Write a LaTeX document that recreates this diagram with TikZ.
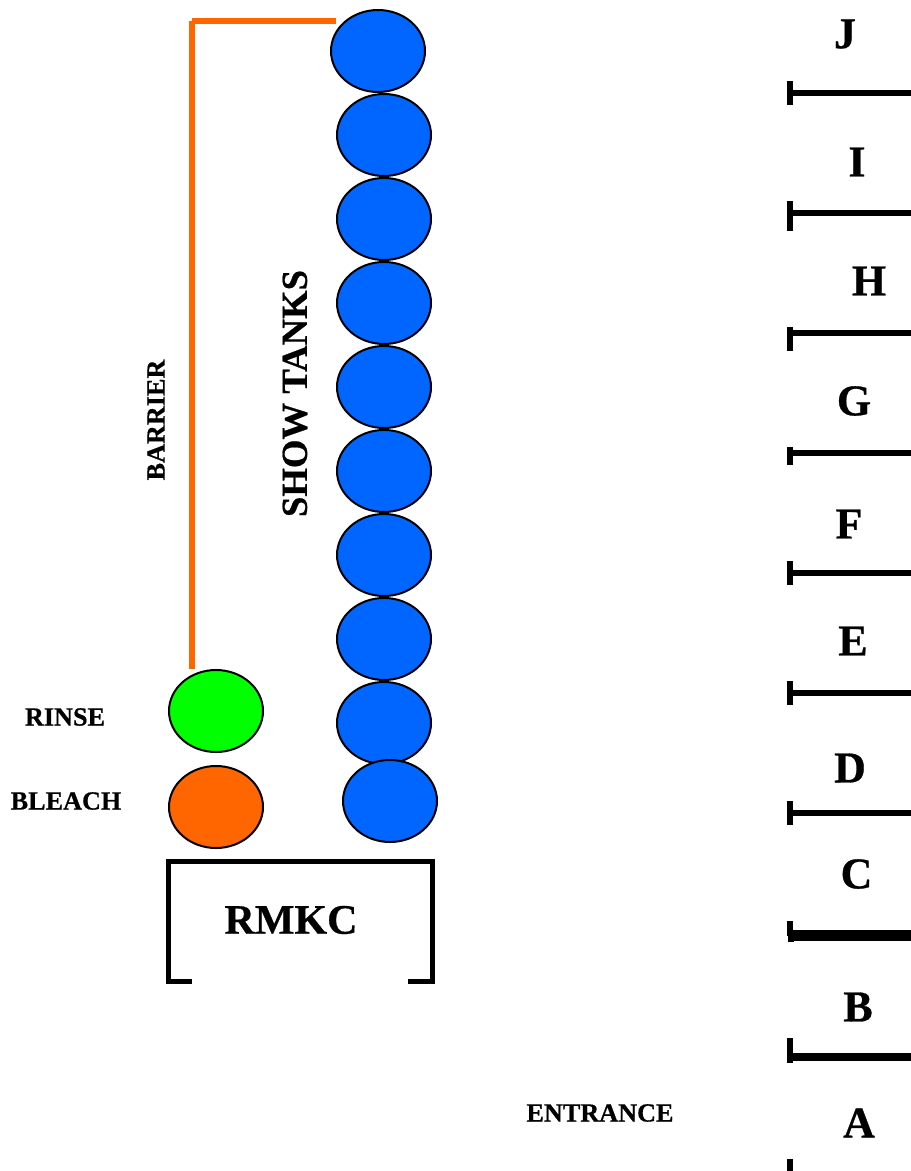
\documentclass[tikz,border=0pt]{standalone}
\usepackage{fontspec}
\setmainfont[BoldFeatures={FakeBold=0.6}]{Liberation Serif}
\usetikzlibrary{shapes.geometric}
\definecolor{tankblue}{RGB}{0,102,255}
\definecolor{barorange}{RGB}{255,102,0}
\definecolor{rinsegreen}{RGB}{0,255,0}
\tikzset{
  x=1pt,y=-1pt,
  tank/.style={ellipse,draw=black,line width=2pt,minimum width=94pt,minimum height=82pt,inner sep=0pt,fill=#1},
  lab/.style={font=\bfseries\fontsize{26.2}{26}\selectfont,inner sep=0pt,text=black},
  letter/.style={font=\bfseries\fontsize{44}{44}\selectfont,inner sep=0pt,text=black},
  wall/.style={line width=6pt},
  tick/.style={line width=5.5pt},
  bar/.style={barorange,line width=5.5pt},
  bracket/.style={line width=5pt,miter limit=10},
}
\begin{document}
\begin{tikzpicture}
\useasboundingbox (0,0) rectangle (911,1171);
% barrier
\coordinate (b1) at (192,668.5);
\coordinate (b2) at (192,21);
\coordinate (b4) at (335.5,21);
\draw[bar] (b1) -- (b2);
\draw[bar] (b2) -- (b4);
% tanks
\foreach \n/\y in {2/135,3/219,4/303,5/387,6/471,7/555,8/639,9/723}
  \node[tank=tankblue] (t\n) at (384,\y) {};
\node[tank=tankblue] (t1) at (378,51) {};
\node[tank=tankblue] (t10) at (390,801) {};
\node[tank=rinsegreen] (rinse) at (216,711) {};
\node[tank=barorange] (bleach) at (216,807) {};
% RMKC bracket
\draw[bracket] (192,981) -- (168,981) -- (168,861) -- (432,861) -- (432,981) -- (408,981);
\node[font=\bfseries\fontsize{42}{42}\selectfont,inner sep=0pt] (rmkc) at (291,920) {RMKC};
% side labels
\node[lab] (lrinse) at (65,717) {RINSE};
\node[lab] (lbleach) at (66,801) {BLEACH};
\node[lab] (lentr) at (600,1113) {ENTRANCE};
\node[lab,rotate=90] (lbarrier) at (156,420) {BARRIER};
\node[font=\bfseries\fontsize{36.7}{37}\selectfont,inner sep=0pt,rotate=90] (lshow) at (295,393.5) {SHOW TANKS};
% right wall
\foreach \y/\a/\b in {93/81/105,213/201/231,333/327/351,453/447/465,573/561/585,693/681/705,813/801/825}{
  \draw[wall] (790,\y) -- (911,\y);
  \draw[tick] (790,\a) -- (790,\b);
}
\draw[wall] (790,933) -- (911,933);
\draw[wall] (792,938) -- (911,938);
\draw[tick] (790,921) -- (790,936);
\draw[tick] (791,936) -- (791,942);
\draw[wall,line width=8pt] (790,1056.7) -- (911,1056.7);
\draw[tick] (790,1038) -- (790,1063);
\draw[tick] (790,1159) -- (790,1171);
% letters
\node[letter] (J) at (845,34) {J};
\node[letter] (I) at (857,162) {I};
\node[letter] (H) at (869,281) {H};
\node[letter] (G) at (854,401) {G};
\node[letter] (F) at (849,524) {F};
\node[letter] (E) at (853,641) {E};
\node[letter] (D) at (850,768) {D};
\node[letter] (C) at (856.5,874) {C};
\node[letter] (B) at (858,1007) {B};
\node[letter] (A) at (859,1123) {A};
\end{tikzpicture}
\end{document}
